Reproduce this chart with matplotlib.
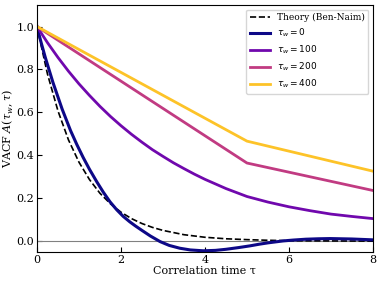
import matplotlib
matplotlib.use('Agg')
import matplotlib.pyplot as plt

plt.rcParams['font.family'] = 'DejaVu Serif'
plt.rcParams['font.size'] = 8

# Theory (Ben-Naim) curve
tau_theory = [0, 0.25, 0.5, 0.75, 1.0, 1.25, 1.5, 1.75, 2.0, 2.25, 2.5, 2.75, 3.0,
              3.5, 4.0, 4.5, 5.0, 5.5, 6.0, 6.5, 7.0, 7.5, 8.0]
vacf_theory = [1.0, 0.779, 0.607, 0.472, 0.368, 0.287, 0.223, 0.174, 0.135, 0.105,
               0.082, 0.064, 0.050, 0.030, 0.018, 0.011, 0.007, 0.004, 0.002,
               0.0015, 0.001, 0.0006, 0.0003]

# tau_w = 0
tau_0 = [0, 0.1, 0.2, 0.38, 0.6, 0.8, 0.95, 1.1, 1.25, 1.42, 1.58, 1.74, 1.9, 2.05,
         2.21, 2.35, 2.5, 2.7, 2.93, 3.15, 3.4, 3.65, 3.96, 4.25, 4.5, 4.8, 5.07,
         5.3, 5.5, 5.86, 6.1, 6.4, 6.7, 6.98, 7.5, 8.0]
vacf_0 = [1.0, 0.925, 0.855, 0.74, 0.615, 0.515, 0.45, 0.39, 0.335, 0.278, 0.228,
          0.183, 0.146, 0.116, 0.09, 0.07, 0.05, 0.024, -0.002, -0.02, -0.033,
          -0.041, -0.045, -0.043, -0.038, -0.030, -0.022, -0.014, -0.008, 0.001,
          0.005, 0.009, 0.011, 0.012, 0.010, 0.006]

# tau_w = 100
tau_100 = [0, 0.25, 0.5, 0.75, 1.0, 1.25, 1.5, 1.75, 2.0, 2.25, 2.5, 2.75, 3.0,
           3.25, 3.5, 3.75, 4.0, 4.5, 5.0, 5.5, 6.0, 6.5, 7.0, 7.5, 8.0]
vacf_100 = [1.0, 0.925, 0.856, 0.792, 0.733, 0.679, 0.628, 0.581, 0.538, 0.498,
            0.461, 0.426, 0.395, 0.365, 0.338, 0.312, 0.288, 0.245, 0.208, 0.182,
            0.160, 0.142, 0.126, 0.115, 0.105]

# tau_w = 200 and 400 (piecewise, kink at tau = 5)
tau_kink = [0, 5, 8]
vacf_200 = [1.0, 0.364, 0.236]
vacf_400 = [1.0, 0.466, 0.326]

labels = [r'$\tau_w = 0$', r'$\tau_w = 100$', r'$\tau_w = 200$', r'$\tau_w = 400$']
colors = ['#0d0887', '#7008ad', '#c13b82', '#fdc328']

fig = plt.figure(figsize=(3.81, 2.83), dpi=100)
ax = fig.add_axes([0.097, 0.11, 0.882, 0.872])

ax.axhline(0, color='gray', lw=0.8)
ax.plot(tau_theory, vacf_theory, 'k--', lw=1.2, label='Theory (Ben-Naim)')
ax.plot(tau_0, vacf_0, color=colors[0], lw=2.2, label=labels[0])
ax.plot(tau_100, vacf_100, color=colors[1], lw=2, label=labels[1])
ax.plot(tau_kink, vacf_200, color=colors[2], lw=2, label=labels[2])
ax.plot(tau_kink, vacf_400, color=colors[3], lw=2, label=labels[3])

ax.set_xlim(0, 8)
ax.set_ylim(-0.05, 1.1)
ax.set_xticks([0, 2, 4, 6, 8])
ax.set_yticks([0.0, 0.2, 0.4, 0.6, 0.8, 1.0])
ax.tick_params(direction='in', length=3.5, pad=2)
ax.set_xlabel('Correlation time τ', labelpad=1)
ax.set_ylabel(r'VACF $\bar{A}(\tau_w, \tau)$', labelpad=1,
              math_fontfamily='dejavuserif')

ax.legend(loc='upper right', fontsize=6.5, handlelength=2.2)

plt.savefig('out.png', dpi=100)
